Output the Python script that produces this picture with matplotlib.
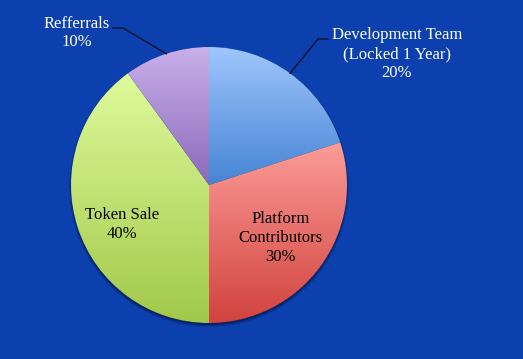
import numpy as np
import matplotlib.pyplot as plt
from matplotlib.patches import Circle
from matplotlib.colors import to_rgb

labels = ['Development Team\n(Locked 1 Year)', 'Platform\nContributors', 'Token Sale', 'Refferrals']
shares = [20, 30, 40, 10]
top_colors = ['#a0c6fc', '#fd9c98', '#defb9c', '#c9b0ea']
bottom_colors = ['#4584d4', '#d1433d', '#a2c84a', '#8b69ba']
inside = [False, True, True, False]

BG = '#0c40ae'
W, H = 523, 359
CX, CY, R = 209, H - 185, 138


def gradient_image(c_top, c_bot, n=256):
    t = np.linspace(0, 1, n)[:, None]
    a, b = np.array(to_rgb(c_top)), np.array(to_rgb(c_bot))
    return (a[None, :] * (1 - t) + b[None, :] * t)[:, None, :]


def main():
    fig = plt.figure(figsize=(W / 100, H / 100), dpi=100)
    fig.patch.set_facecolor(BG)
    ax = fig.add_axes([0, 0, 1, 1])

    # soft shadow under the pie
    for dr, a in [(3, 0.25), (2, 0.35), (1, 0.5)]:
        ax.add_patch(Circle((CX, CY - 2), R + dr - 1, color='#041d55', alpha=a, lw=0, zorder=0))

    wedges, _ = ax.pie(shares, center=(CX, CY), radius=R, startangle=90,
                       counterclock=False, frame=True,
                       wedgeprops=dict(edgecolor='none', linewidth=0))
    ax.set_aspect('auto')
    ax.axis('off')

    for w, ct, cb in zip(wedges, top_colors, bottom_colors):
        w.set_facecolor('none')
        ext = w.get_path().transformed(w.get_patch_transform()).get_extents()
        im = ax.imshow(gradient_image(ct, cb), extent=(ext.x0, ext.x1, ext.y0, ext.y1),
                       aspect='auto', origin='upper', zorder=1, interpolation='bilinear')
        im.set_clip_path(w)

    ax.set_xlim(0, W)
    ax.set_ylim(0, H)

    font = dict(family='Liberation Serif', fontsize=12, linespacing=1.25)
    # (distance as fraction of radius, angle shift in degrees) for inside labels
    inside_pos = {30: (0.64, 0), 40: (0.69, 6)}

    for w, lab, val, ins in zip(wedges, labels, shares, inside):
        mid = (w.theta1 + w.theta2) / 2
        text = f'{lab}\n{val}%'
        if ins:
            d, shift = inside_pos[val]
            ang = np.deg2rad(mid + shift)
            ax.text(CX + d * R * np.cos(ang), CY + d * R * np.sin(ang) - 1, text,
                    ha='center', va='center', color='black', zorder=3, **font)
        else:
            ang = np.deg2rad(mid)
            ex, ey = CX + R * np.cos(ang), CY + R * np.sin(ang)
            side = 1 if np.cos(ang) > 0 else -1
            if side > 0:
                elbow = (318, H - 39)
                tx, ty = 397, H - 54
            else:
                elbow = (123, H - 28)
                tx, ty = 77, H - 33
            end = (elbow[0] + side * 10, elbow[1])
            ax.plot([ex, elbow[0], end[0]], [ey, elbow[1], end[1]],
                    color='#0a1030', lw=1, zorder=2)
            ax.text(tx, ty, text, ha='center', va='center', color='white', zorder=3, **font)

    fig.savefig('out.png', dpi=100, facecolor=BG)


if __name__ == '__main__':
    main()
